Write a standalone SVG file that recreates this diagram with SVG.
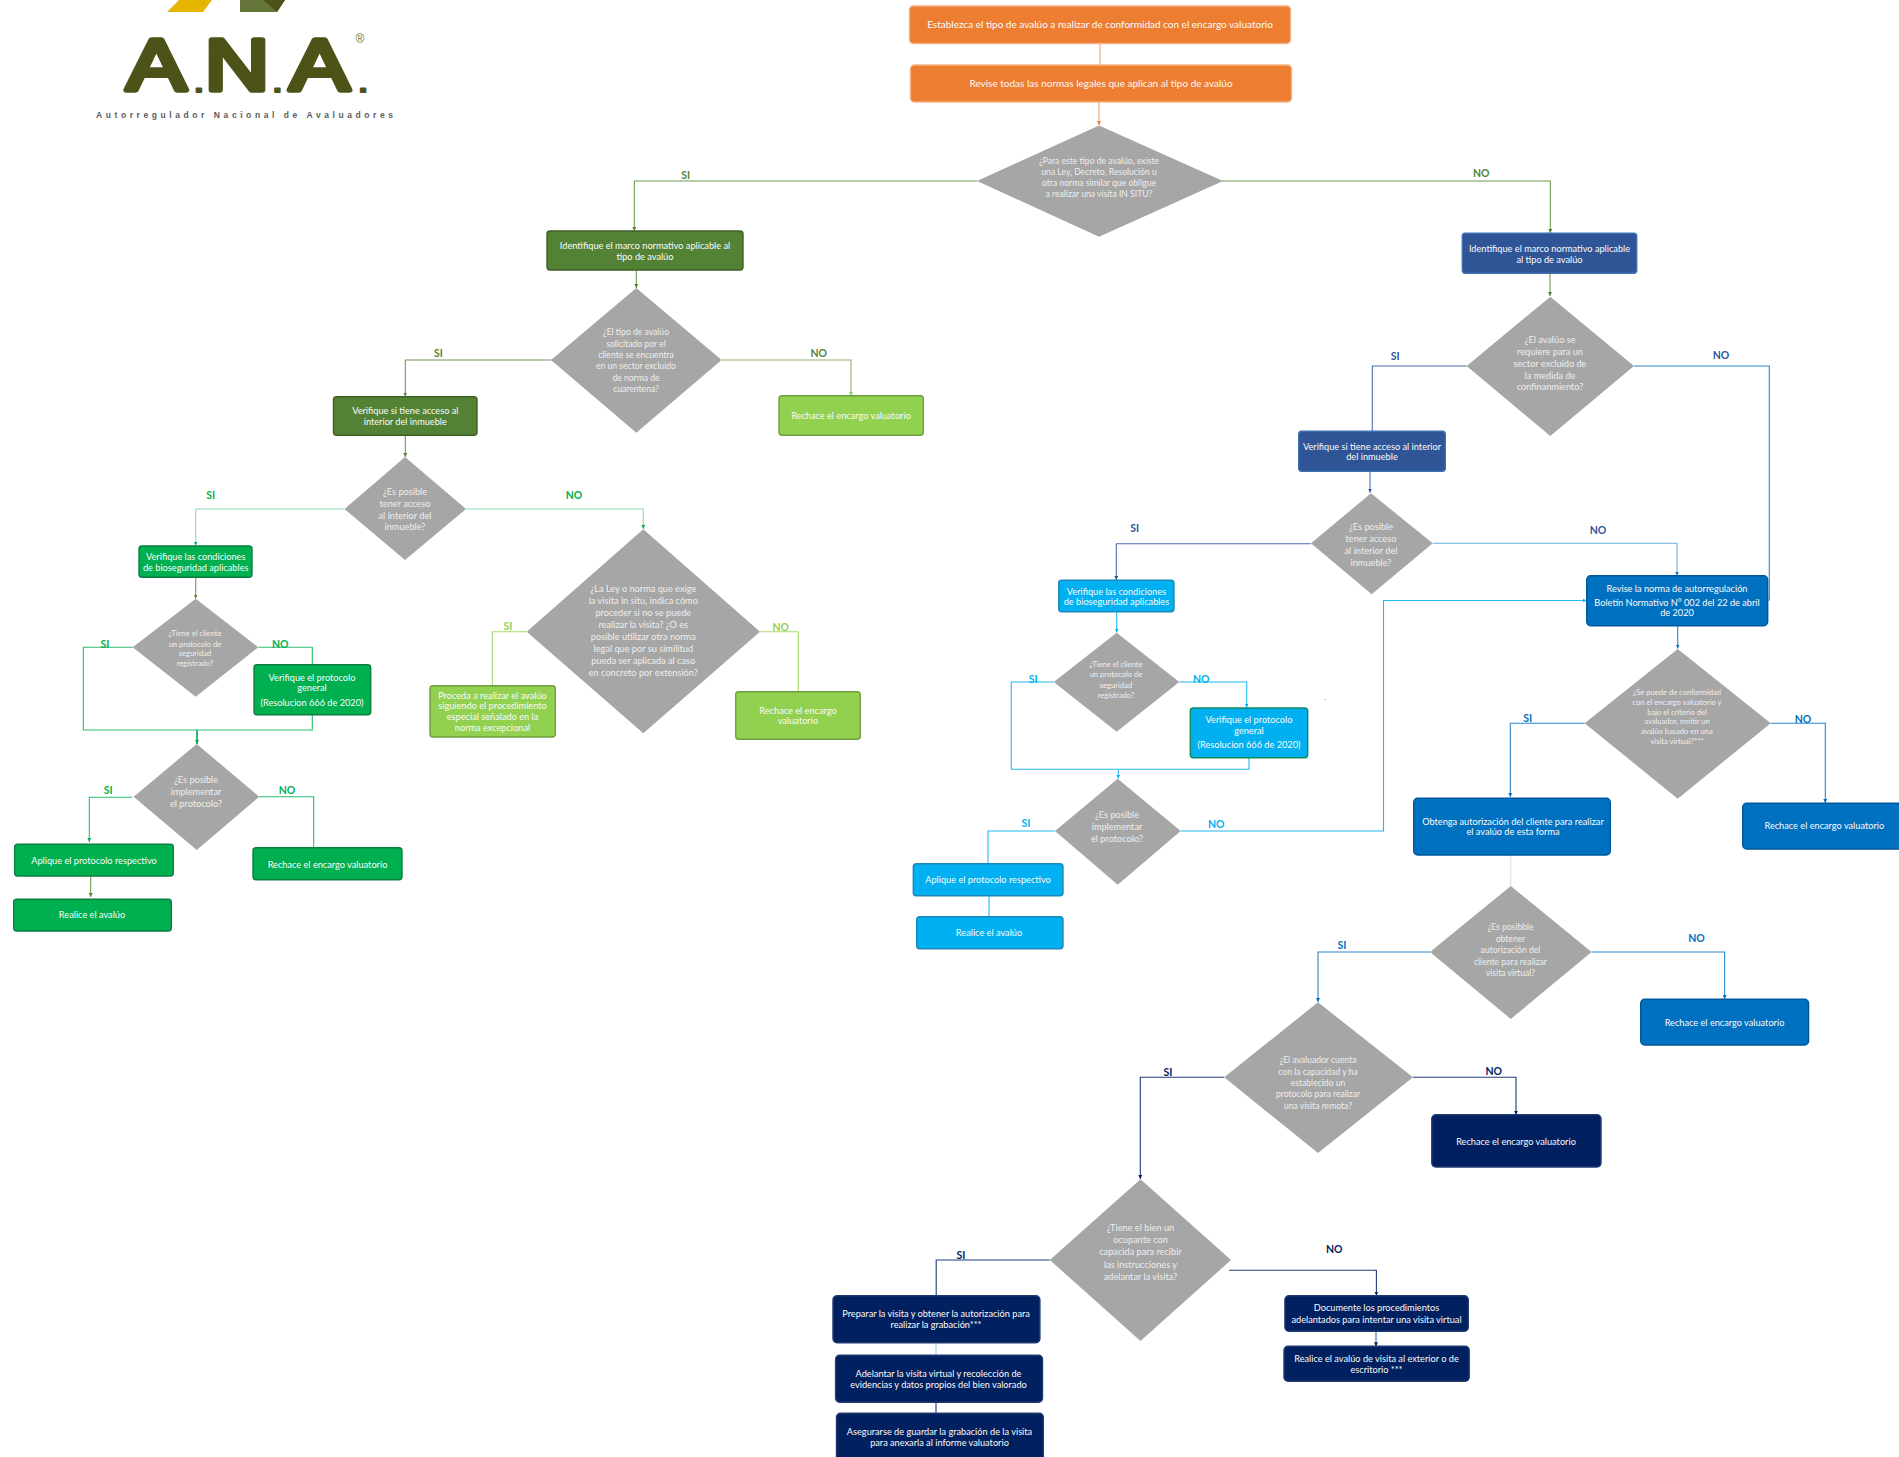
<svg xmlns="http://www.w3.org/2000/svg" width="1899" height="1457" viewBox="0 0 1899 1457">
<style>
text{font-family:"Lato","Liberation Sans",sans-serif;text-anchor:middle}
.t{fill:#fbfbfb;font-size:9.200px}
.t1{fill:#fbfbfb;font-size:10px}
.d{fill:#eeeeee;font-size:9.200px}
.d8{fill:#eeeeee;font-size:8.600px}
.s{fill:#eeeeee;font-size:7.600px}
.l{font-size:10.500px;font-weight:700}
.dia{fill:#a6a6a6}
rect{stroke-width:1.4}
.or{fill:#ed7d31;stroke:#f4b183}
.dg{fill:#548235;stroke:#3d5f26}
.gr{fill:#00b050;stroke:#0a7f40}
.lg{fill:#92d050;stroke:#6f9f3e}
.bl{fill:#2f5597;stroke:#3e6fb0}
.cy{fill:#00b0f0;stroke:#1a88b8}
.mb{fill:#0070c0;stroke:#00589a}
.nv{fill:#002060;stroke:#1f3a70}
#connectors path{fill:none;stroke-width:1.1}
.cor{stroke:#f4a46e;marker-end:url(#aor)}
.cdg{stroke:#6f9a52;marker-end:url(#adg)}
.cgr{stroke:#2cbc6e;marker-end:url(#agr)}
.clg{stroke:#a5da6e;marker-end:url(#alg)}
.cbl{stroke:#4a6fae;marker-end:url(#abl)}
.ccy{stroke:#22baf2;marker-end:url(#acy)}
.cmb{stroke:#2a88cc;marker-end:url(#amb)}
.cnv{stroke:#1f3d78;marker-end:url(#anv)}
#connectors .na{marker-end:none}
.fdg{fill:#548235}.fgr{fill:#00b050}.flg{fill:#92d050}.fbl{fill:#2f5597}.fcy{fill:#00b0f0}.fmb{fill:#0070c0}.fnv{fill:#002060}
.dot{font-size:34px;stroke-width:2}
</style>
<defs>
<marker id="aor" markerUnits="userSpaceOnUse" markerWidth="4" markerHeight="4" refX="4" refY="2" orient="auto"><path d="M0 0L4 2L0 4Z" fill="#ed7d31"/></marker>
<marker id="adg" markerUnits="userSpaceOnUse" markerWidth="4" markerHeight="4" refX="4" refY="2" orient="auto"><path d="M0 0L4 2L0 4Z" fill="#548235"/></marker>
<marker id="agr" markerUnits="userSpaceOnUse" markerWidth="4" markerHeight="4" refX="4" refY="2" orient="auto"><path d="M0 0L4 2L0 4Z" fill="#00b050"/></marker>
<marker id="alg" markerUnits="userSpaceOnUse" markerWidth="4" markerHeight="4" refX="4" refY="2" orient="auto"><path d="M0 0L4 2L0 4Z" fill="#92d050"/></marker>
<marker id="abl" markerUnits="userSpaceOnUse" markerWidth="4" markerHeight="4" refX="4" refY="2" orient="auto"><path d="M0 0L4 2L0 4Z" fill="#2f5597"/></marker>
<marker id="acy" markerUnits="userSpaceOnUse" markerWidth="4" markerHeight="4" refX="4" refY="2" orient="auto"><path d="M0 0L4 2L0 4Z" fill="#00b0f0"/></marker>
<marker id="amb" markerUnits="userSpaceOnUse" markerWidth="4" markerHeight="4" refX="4" refY="2" orient="auto"><path d="M0 0L4 2L0 4Z" fill="#0070c0"/></marker>
<marker id="anv" markerUnits="userSpaceOnUse" markerWidth="4" markerHeight="4" refX="4" refY="2" orient="auto"><path d="M0 0L4 2L0 4Z" fill="#002060"/></marker>
</defs>
<rect width="1899" height="1457" fill="#fff" stroke="none"/>

<g id="logo">
<polygon points="167,12 179,0 212,0 203,12" fill="#e6b500"/>
<polygon points="240,0 285,0 277,12 240,12" fill="#66763a"/>
<polygon points="263,0 285,0 277,12" fill="#4d5318"/>
<text transform="scale(1.24 1)" y="89.700" style="font-family:'Liberation Sans',sans-serif;font-size:72px;fill:#4d5318;stroke:#4d5318;stroke-width:5.500;stroke-linejoin:round;stroke-linecap:round;text-anchor:start"><tspan x="102">A</tspan><tspan class="dot" x="155.600" y="91.700">.</tspan><tspan x="165.200" y="89.700">N</tspan><tspan class="dot" x="219" y="91.700">.</tspan><tspan x="233.600" y="89.700">A</tspan><tspan class="dot" x="288.200" y="91.700">.</tspan></text>
<text x="360" y="43" style="font-family:'Liberation Sans',sans-serif;font-size:12px;fill:#66763a">®</text>
<text x="244.500" y="118" textLength="297" lengthAdjust="spacing" style="font-family:'Liberation Sans',sans-serif;font-weight:700;font-size:8.500px;fill:#5c5c60">Autorregulador Nacional de Avaluadores</text>
</g>

<g id="connectors">
<path class="cor na" d="M1100 44V65"/>
<path class="cor" d="M1099 102V125"/>
<path class="cdg" d="M977 181H634.300V231"/>
<path class="cdg" d="M1222 181H1550.300V233"/>
<path class="cdg" d="M636.300 270V288"/>
<path class="cdg" d="M551 360H405.300V396.500"/>
<path class="clg" style="stroke:#8fb070" d="M721.600 360H851V396"/>
<path class="cdg" d="M405.300 435V457"/>
<path class="cgr" style="stroke:#8fdcb0" d="M344.500 509H195.700V545.500"/>
<path class="cgr" style="stroke:#8fdcb0" d="M466 509H643.300V529"/>
<path class="cdg" d="M195.700 577V598.500"/>
<path class="cgr na" d="M132.700 647.300H83.300V730H312.300V714.700"/>
<path class="cgr na" d="M258.300 647.300H312.300V664.500"/>
<path class="cgr" style="stroke-width:2" d="M197 730V744"/>
<path class="cgr" d="M132 797.300H89.300V842"/>
<path class="cgr na" d="M259.300 796.700H313.700V847.700"/>
<path class="cdg" d="M90.700 876V897"/>
<path class="clg na" d="M526.700 631.700H492.300V685.700"/>
<path class="clg na" d="M760 631.700H798.300V691.700"/>
<path class="cdg" d="M1550 273.300V296"/>
<path class="cbl na" d="M1466.700 366H1372.300V431"/>
<path class="cmb na" d="M1634 366H1769.300V600H1767.700"/>
<path class="cbl" d="M1370 471.300V492.500"/>
<path class="cbl" d="M1311 543.700H1116.300V580"/>
<path class="cmb" style="stroke:#6aaee0" d="M1432.700 543.300H1677V575.500"/>
<path class="cmb" d="M1677.700 625.700V648.500"/>
<path class="cmb" d="M1584.700 723.300H1510.300V797"/>
<path class="cmb" d="M1770.700 723.300H1825.300V803"/>
<path class="ccy" d="M1116.700 611.700V632.500"/>
<path class="ccy na" d="M1053.700 682H1011.300V769.300H1249V757.700"/>
<path class="ccy" d="M1179.300 682H1246.700V707.500"/>
<path class="ccy" d="M1118.300 770V778.500"/>
<path class="ccy na" d="M1055 831H988V863.700"/>
<path class="ccy na" d="M989 895.700V916.700"/>
<path class="ccy" d="M1180.700 831H1383.500V600.500H1586.500"/>
<path class="cmb na" style="stroke:#cfe3f2" d="M1510.800 855V886"/>
<path class="cmb" d="M1430 952H1318V1002"/>
<path class="cmb" d="M1591.600 952H1724.600V999"/>
<path class="cnv" d="M1224.200 1077.300H1140.300V1179"/>
<path class="cnv" d="M1413 1077.300H1516V1114.700"/>
<path class="cnv na" d="M1049.800 1260H936.200V1295.700"/>
<path class="cnv" d="M1229 1270.300H1376.400V1295.500"/>
<path style="stroke:#a8d0e8" d="M936 1342.700V1355.300"/>
<path style="stroke:#1f3d78" d="M936 1402.300V1413.300"/>
<path class="cnv" style="stroke:#3a6ea5" d="M1376 1331.300V1346.300"/>
</g>

<g id="edge-labels">
<text class="l fdg" x="685.700" y="178.500">SI</text>
<text class="l fdg" x="1481.300" y="177">NO</text>
<text class="l fdg" x="438.400" y="357">SI</text>
<text class="l fdg" x="818.800" y="356.500">NO</text>
<text class="l fgr" x="210.700" y="498.500">SI</text>
<text class="l fgr" x="574" y="498.500">NO</text>
<text class="l fgr" x="105" y="647.500">SI</text>
<text class="l fgr" x="280.300" y="647.500">NO</text>
<text class="l fgr" x="108.300" y="793.500">SI</text>
<text class="l fgr" x="287" y="793.500">NO</text>
<text class="l flg" x="508" y="629.500">SI</text>
<text class="l flg" x="780.700" y="630.500">NO</text>
<text class="l fbl" x="1395.300" y="359.500">SI</text>
<text class="l fbl" x="1721" y="358.500">NO</text>
<text class="l fbl" x="1134.800" y="531.500">SI</text>
<text class="l fbl" x="1598" y="533.500">NO</text>
<text class="l fcy" x="1033.300" y="682.500">SI</text>
<text class="l fcy" x="1201.300" y="682.500">NO</text>
<text class="l fcy" x="1026" y="826.500">SI</text>
<text class="l fcy" x="1216.300" y="827.500">NO</text>
<text class="l fmb" x="1527.700" y="721.500">SI</text>
<text class="l fmb" x="1803" y="722.500">NO</text>
<text class="l fmb" x="1342" y="948.500">SI</text>
<text class="l fmb" x="1696.500" y="941.500">NO</text>
<text class="l fnv" x="1168" y="1075.500">SI</text>
<text class="l fnv" x="1493.800" y="1074.500">NO</text>
<text class="l fnv" x="961" y="1259">SI</text>
<text class="l fnv" x="1334.300" y="1252.500">NO</text>
</g>

<g id="n1"><rect class="or" x="909.500" y="6" width="381" height="37.500" rx="4"/><text class="t1" x="1100" y="28">Establezca el tipo de avalúo a realizar de conformidad con el encargo valuatorio</text></g>
<g id="n2"><rect class="or" x="910.500" y="65" width="381" height="37" rx="4"/><text class="t1" x="1101" y="87">Revise todas las normas legales que aplican al tipo de avalúo</text></g>
<g id="n3"><polygon class="dia" points="1099,125.500 1223,181 1099,236.700 977,181"/><text class="d8" x="1099"><tspan x="1099" y="163.500">¿Para este tipo de avalúo, existe</tspan><tspan x="1099" y="174.500">una Ley, Decreto, Resolución u</tspan><tspan x="1099" y="186">otra norma similar que obligue</tspan><tspan x="1099" y="197">a realizar una visita IN SITU?</tspan></text></g>

<g id="n4"><rect class="dg" x="547" y="231" width="196" height="39" rx="3"/><text class="t"><tspan x="645" y="248.500">Identifique  el marco normativo aplicable al</tspan><tspan x="645" y="259.500">tipo de avalúo</tspan></text></g>
<g id="n5"><polygon class="dia" points="636.300,288 721.600,360 636.300,432.700 551,360"/><text class="d8"><tspan x="636" y="334.500">¿El tipo de avalúo</tspan><tspan x="636" y="346.500">solicitado por el</tspan><tspan x="636" y="357.500">cliente se encuentra</tspan><tspan x="636" y="368.500">en un sector excluido</tspan><tspan x="636" y="380.500">de norma de</tspan><tspan x="636" y="391.500">cuarentena?</tspan></text></g>
<g id="n6"><rect class="dg" x="333.500" y="396.700" width="143.500" height="38.600" rx="3"/><text class="t"><tspan x="405.300" y="413.500">Verifique si tiene acceso al</tspan><tspan x="405.300" y="424.500">interior del inmueble</tspan></text></g>
<g id="n7"><rect class="lg" x="779" y="395.700" width="144.300" height="39.600" rx="3"/><text class="t" x="851" y="418.500">Rechace el encargo valuatorio</text></g>
<g id="n8"><polygon class="dia" points="405,457 466,509 405,560 344.500,509"/><text class="d"><tspan x="405" y="494.500">¿Es posible</tspan><tspan x="405" y="506.500">tener acceso</tspan><tspan x="405" y="518.500">al interior del</tspan><tspan x="405" y="530">inmueble?</tspan></text></g>
<g id="n9"><rect class="gr" x="139" y="546" width="113" height="31.300" rx="3"/><text class="t"><tspan x="195.700" y="559.500">Verifique las condiciones</tspan><tspan x="195.700" y="570.500">de bioseguridad aplicables</tspan></text></g>
<g id="n10"><polygon class="dia" points="195.700,598.700 258.300,647.300 195.700,696.700 132.700,647.300"/><text class="s"><tspan x="195" y="636">¿Tiene el cliente</tspan><tspan x="195" y="646.500">un protocolo de</tspan><tspan x="195" y="655.500">seguridad</tspan><tspan x="195" y="665.500">registrado?</tspan></text></g>
<g id="n11"><rect class="gr" x="254" y="664.700" width="116.700" height="50" rx="3"/><text class="t"><tspan x="312" y="680.500">Verifique el protocolo</tspan><tspan x="312" y="690.500">general</tspan><tspan x="312" y="706">(Resolucion 666 de 2020)</tspan></text></g>
<g id="n12"><polygon class="dia" points="196.700,744 259.300,796.700 196.700,850 133.700,796.700"/><text class="d"><tspan x="196" y="782.500">¿Es posible</tspan><tspan x="196" y="794.500">implementar</tspan><tspan x="196" y="806.500">el protocolo?</tspan></text></g>
<g id="n13"><rect class="gr" x="14.700" y="844.300" width="158.600" height="31.700" rx="3"/><text class="t" x="94" y="863.500">Aplique el protocolo respectivo</text></g>
<g id="n14"><rect class="gr" x="13.700" y="899.300" width="157.600" height="31.700" rx="3"/><text class="t" x="92" y="918">Realice el avalúo</text></g>
<g id="n15"><rect class="gr" x="253" y="847.700" width="149" height="32" rx="3"/><text class="t" x="327.500" y="867.500">Rechace el encargo valuatorio</text></g>
<g id="n16"><polygon class="dia" points="643.300,529.300 760,631.700 643.300,733.300 526.700,631.700"/><text class="d"><tspan x="643.300" y="591.500">¿La Ley o norma que exige</tspan><tspan x="643.300" y="603.500">la visita in situ, indica cómo</tspan><tspan x="643.300" y="615.500">proceder si no se puede</tspan><tspan x="643.300" y="627.500">realizar la visita? ¿O es</tspan><tspan x="643.300" y="639.500">posible utilizar otra norma</tspan><tspan x="643.300" y="651.500">legal que por su similitud</tspan><tspan x="643.300" y="663.500">pueda ser aplicada al caso</tspan><tspan x="643.300" y="675.500">en concreto por extensión?</tspan></text></g>
<g id="n17"><rect class="lg" x="430" y="685.700" width="125.300" height="51.300" rx="3"/><text class="t"><tspan x="492.500" y="698.500">Proceda a realizar el avalúo</tspan><tspan x="492.500" y="708.500">siguiendo el procedimiento</tspan><tspan x="492.500" y="719.500">especial señalado en la</tspan><tspan x="492.500" y="730.500">norma excepcional</tspan></text></g>
<g id="n18"><rect class="lg" x="735.700" y="691.700" width="124.600" height="47.600" rx="3"/><text class="t"><tspan x="798" y="713.500">Rechace el encargo</tspan><tspan x="798" y="723.500">valuatorio</tspan></text></g>

<g id="n19"><rect class="bl" x="1462.300" y="233.300" width="174.400" height="40" rx="3"/><text class="t"><tspan x="1549.500" y="251.500">Identifique  el marco normativo aplicable</tspan><tspan x="1549.500" y="262.500">al tipo de avalúo</tspan></text></g>
<g id="n20"><polygon class="dia" points="1550.300,296.700 1634,366 1550.300,436 1466.700,366"/><text class="d"><tspan x="1550" y="342.500">¿El avalúo se</tspan><tspan x="1550" y="354.500">requiere para un</tspan><tspan x="1550" y="366.500">sector excluído de</tspan><tspan x="1550" y="378.500">la medida de</tspan><tspan x="1550" y="390">confinanmiento?</tspan></text></g>
<g id="n21"><rect class="bl" x="1298.700" y="431.300" width="146.600" height="40" rx="3"/><text class="t"><tspan x="1372" y="449.500">Verifique si tiene acceso al interior</tspan><tspan x="1372" y="459.500">del inmueble</tspan></text></g>
<g id="n22"><polygon class="dia" points="1371,493.300 1432.700,543.300 1371.700,594.300 1311,543.300"/><text class="d"><tspan x="1371" y="529.500">¿Es posible</tspan><tspan x="1371" y="541.500">tener acceso</tspan><tspan x="1371" y="553.500">al interior del</tspan><tspan x="1371" y="565.500">inmueble?</tspan></text></g>
<g id="n23"><rect class="cy" x="1058.700" y="580.300" width="115.300" height="31.400" rx="3"/><text class="t"><tspan x="1116.500" y="594.500">Verifique las condiciones</tspan><tspan x="1116.500" y="604.500">de bioseguridad aplicables</tspan></text></g>
<g id="n24"><polygon class="dia" points="1116.700,632.700 1179.300,682 1116.700,731.700 1053.700,682"/><text class="s"><tspan x="1116" y="667">¿Tiene el cliente</tspan><tspan x="1116" y="677">un protocolo de</tspan><tspan x="1116" y="688">seguridad</tspan><tspan x="1116" y="698">registrado?</tspan></text></g>
<g id="n25"><rect class="cy" style="stroke:#0e8a5f" x="1190.300" y="708" width="117.400" height="49.700" rx="3"/><text class="t"><tspan x="1249" y="722.500">Verifique el protocolo</tspan><tspan x="1249" y="733.500">general</tspan><tspan x="1249" y="748">(Resolucion 666 de 2020)</tspan></text></g>
<g id="n26"><polygon class="dia" points="1117.700,778.700 1180.700,831 1117.700,884.700 1055,831"/><text class="d"><tspan x="1117" y="817.500">¿Es posible</tspan><tspan x="1117" y="829.500">implementar</tspan><tspan x="1117" y="841.500">el protocolo?</tspan></text></g>
<g id="n27"><rect class="cy" x="913.300" y="863.700" width="149.700" height="32" rx="3"/><text class="t" x="988" y="883">Aplique el protocolo respectivo</text></g>
<g id="n28"><rect class="cy" x="916.700" y="916.700" width="146.300" height="32" rx="3"/><text class="t" x="989" y="935.500">Realice el avalúo</text></g>
<text id="stray-dot" x="1325" y="700" style="font-size:8px;fill:#808080">.</text>

<g id="n29"><rect class="mb" x="1586.700" y="575.700" width="181" height="50" rx="4"/><text class="t"><tspan x="1677" y="591.500">Revise la norma de autorregulación</tspan><tspan x="1677" y="606">Boletín Normativo N° 002 del 22 de abril</tspan><tspan x="1677" y="616">de 2020</tspan></text></g>
<g id="n30"><polygon class="dia" points="1677.700,649 1770.700,723.300 1677.700,798.700 1584.700,723.300"/><text class="s"><tspan x="1677" y="695">¿Se puede de conformidad</tspan><tspan x="1677" y="705">con el encargo valuatorio y</tspan><tspan x="1677" y="715">bajo el  criterio del</tspan><tspan x="1677" y="724">avaluador, emitir un</tspan><tspan x="1677" y="734">avalúo basado en una</tspan><tspan x="1677" y="744">visita virtual?***</tspan></text></g>
<g id="n31"><rect class="mb" x="1413.700" y="798.300" width="196.600" height="56.700" rx="4"/><text class="t"><tspan x="1513" y="824.500">Obtenga autorización del cliente para realizar</tspan><tspan x="1513" y="834.500">el avalúo de esta forma</tspan></text></g>
<g id="n32"><rect class="mb" x="1742.700" y="803.300" width="170" height="45.700" rx="4"/><text class="t" x="1824.300" y="829">Rechace el encargo valuatorio</text></g>
<g id="n33"><polygon class="dia" points="1510.800,886 1591.600,952 1510.800,1019 1430,952"/><text class="d8"><tspan x="1510.500" y="929.500">¿Es posibble</tspan><tspan x="1510.500" y="941.500">obtener</tspan><tspan x="1510.500" y="952.500">autorización del</tspan><tspan x="1510.500" y="964.500">cliente para realizar</tspan><tspan x="1510.500" y="975.500">visita virtual?</tspan></text></g>
<g id="n34"><rect class="mb" x="1640.700" y="999.300" width="167.900" height="45.700" rx="4"/><text class="t" x="1724.500" y="1025.500">Rechace el encargo valuatorio</text></g>
<g id="n35"><polygon class="dia" points="1318,1002.300 1413,1077.300 1318,1153 1224.200,1077.300"/><text class="d8"><tspan x="1318" y="1063">¿El avaluador cuenta</tspan><tspan x="1318" y="1075">con la capacidad y ha</tspan><tspan x="1318" y="1085.500">establecido un</tspan><tspan x="1318" y="1097">protocolo para realizar</tspan><tspan x="1318" y="1108.500">una visita remota?</tspan></text></g>
<g id="n36"><rect class="nv" x="1431.800" y="1114.700" width="169.200" height="52.300" rx="4"/><text class="t" x="1516" y="1144.500">Rechace el encargo valuatorio</text></g>
<g id="n37"><polygon class="dia" points="1140.500,1179.300 1231,1260 1140.500,1341 1049.800,1260"/><text class="d"><tspan x="1140.500" y="1230.500">¿Tiene el bien un</tspan><tspan x="1140.500" y="1243">ocupante con</tspan><tspan x="1140.500" y="1255">capacida para recibir</tspan><tspan x="1140.500" y="1267.500">las instrucciones y</tspan><tspan x="1140.500" y="1279.500">adelantar la visita?</tspan></text></g>
<g id="n38"><rect class="nv" x="833" y="1295.700" width="206.900" height="47" rx="4"/><text class="t"><tspan x="936" y="1316.500">Preparar la visita y obtener la autorización para</tspan><tspan x="936" y="1327.500">realizar la grabación***</tspan></text></g>
<g id="n39"><rect class="nv" x="835.600" y="1355.300" width="206.900" height="47" rx="4"/><text class="t"><tspan x="938.500" y="1376.500">Adelantar la visita virtual y recolección de</tspan><tspan x="938.500" y="1387.500">evidencias y datos propios del bien valorado</tspan></text></g>
<g id="n40"><rect class="nv" x="836.500" y="1413.300" width="206.800" height="60" rx="4"/><text class="t"><tspan x="939.500" y="1434.500">Asegurarse  de guardar la grabación de la visita</tspan><tspan x="939.500" y="1445.500">para anexarla al informe valuatorio</tspan></text></g>
<g id="n41"><rect class="nv" x="1284.900" y="1295.700" width="183.400" height="35.600" rx="4"/><text class="t"><tspan x="1376.500" y="1310.500">Documente los procedimientos</tspan><tspan x="1376.500" y="1322.500">adelantados para intentar una visita virtual</tspan></text></g>
<g id="n42"><rect class="nv" x="1284" y="1346.300" width="185.200" height="35" rx="4"/><text class="t"><tspan x="1376.500" y="1361.500">Realice el avalúo de visita al exterior o de</tspan><tspan x="1376.500" y="1372.500">escritorio ***</tspan></text></g>
</svg>
